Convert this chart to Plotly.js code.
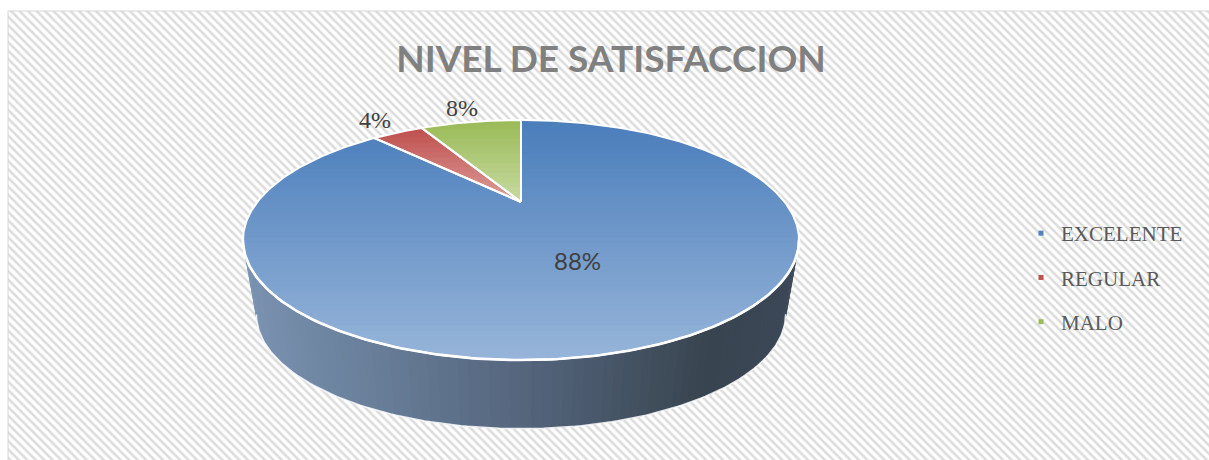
<!DOCTYPE html>
<html><head><meta charset="utf-8">
<script src="https://cdn.plot.ly/plotly-3.0.1.min.js"></script>
<style>html,body{margin:0;padding:0;background:#fff;overflow:hidden}</style>
</head><body><div id="chart" style="width:1209px;height:460px"></div>
<script>
// ---- data ----
const categories = ['EXCELENTE', 'REGULAR', 'MALO'];
const values = [88, 4, 8];
const chartTitle = 'NIVEL DE SATISFACCION';

// ---- styles ----
const W = 1209, H = 460;
const legendColors = ['#4f81bd', '#c0504d', '#9bbb59'];
const topGrad = [['#4a7dbb', '#97b5d9'], ['#be4f4c', '#dd9d9b'], ['#99ba56', '#c7daa1']];
const sideStops = [[0, '#7a93b1'], [0.5, '#55667e'], [0.85, '#38444f'], [1, '#3c4858']];
const CX = 521, K = 0.3167;
const TOPG = {A: 263.7, B: 108, cy: 202};
const BOTG = {A: 251, B: 103, cy: 278};

function hex(c){return [parseInt(c.substr(1,2),16),parseInt(c.substr(3,2),16),parseInt(c.substr(5,2),16)];}
function mix(c1,c2,t){const a=hex(c1),b=hex(c2);return 'rgb('+a.map((v,i)=>Math.round(v+(b[i]-v)*t)).join(',')+')';}
function stopsColor(stops,t){
  for(let i=1;i<stops.length;i++){ if(t<=stops[i][0]){const s=stops[i-1],e=stops[i];return mix(s[1],e[1],(t-s[0])/(e[0]-s[0]));}}
  return stops[stops.length-1][1];
}
function proj(r, phi, g){
  const u=r*Math.sin(phi), v=r*Math.cos(phi), d=1+K*v;
  return [CX + g.A*u/d, g.cy - g.B*v/d];
}
function clipY(poly, y0, keepAbove){
  const out=[]; const ins=p=>keepAbove?p[1]>=y0:p[1]<=y0;
  for(let i=0;i<poly.length;i++){
    const a=poly[i], b=poly[(i+1)%poly.length];
    const ia=ins(a), ib=ins(b);
    if(ia) out.push(a);
    if(ia!==ib){const t=(y0-a[1])/(b[1]-a[1]); out.push([a[0]+t*(b[0]-a[0]), y0]);}
  }
  return out;
}
function polyTrace(pts, color){
  return {type:'scatter', mode:'lines', x:pts.map(p=>p[0]).concat([pts[0][0]]), y:pts.map(p=>p[1]).concat([pts[0][1]]),
    fill:'toself', fillcolor:color, line:{width:0, color:color}, hoverinfo:'skip', showlegend:false};
}
function lineTrace(pts, color, w){
  return {type:'scatter', mode:'lines', x:pts.map(p=>p[0]), y:pts.map(p=>p[1]),
    line:{width:w, color:color}, hoverinfo:'skip', showlegend:false};
}

const traces = [];
// background hatch
traces.push({type:'bar', x:[(8+1230)/2], y:[480], base:[11], width:[1222],
  marker:{color:'#ffffff', line:{color:'#d6d6d6', width:1},
    pattern:{shape:'\\', fgcolor:'#dcdcdc', bgcolor:'#ffffff', size:6, solidity:0.42}},
  hoverinfo:'skip', showlegend:false});

const total = values.reduce((a,b)=>a+b,0);
const D2R = Math.PI/180;

// side wall (front), gradient along x
const phiR = Math.acos(-K), phiL = 2*Math.PI - phiR;
const N = 90;
const xL = proj(1,phiL,TOPG)[0], xR = proj(1,phiR,TOPG)[0];
for(let i=0;i<N;i++){
  const a = phiL - (phiL-phiR)*i/N, b = phiL - (phiL-phiR)*Math.min(1,(i+1.6)/N);
  const pts = [proj(1,a,TOPG), proj(1,b,TOPG), proj(1,b,BOTG), proj(1,a,BOTG)];
  const xm = (proj(1,a,TOPG)[0]+proj(1,b,TOPG)[0])/2;
  traces.push(polyTrace(pts, stopsColor(sideStops, (xm-xL)/(xR-xL))));
}
// bottom front white edge
{
  const pts=[]; for(let p=phiR;p<=phiL+1e-9;p+=D2R) pts.push(proj(1,p,BOTG));
  traces.push(lineTrace(pts,'rgba(255,255,255,0.85)',1.5));
}

// top face slices
const slicePolys = [];
let cum = 0;
values.forEach((v,i)=>{
  const s = cum/total*2*Math.PI, e = (cum+v)/total*2*Math.PI; cum += v;
  const poly = [proj(0,0,TOPG)];
  const n = Math.max(4, Math.ceil((e-s)/D2R));
  for(let j=0;j<=n;j++) poly.push(proj(1, s+(e-s)*j/n, TOPG));
  slicePolys.push({poly, s, e});
  const ys = poly.map(p=>p[1]); const ymin=Math.min(...ys), ymax=Math.max(...ys);
  const bands = Math.max(8, Math.ceil((ymax-ymin)/5));
  const h = (ymax-ymin)/bands;
  for(let b=0;b<bands;b++){
    const y0 = ymin+b*h-0.2, y1 = ymin+(b+1)*h+0.9;
    let c = clipY(poly, y0, true); c = clipY(c, y1, false);
    if(c.length>=3) traces.push(polyTrace(c, mix(topGrad[i][0], topGrad[i][1], (b+0.5)/bands)));
  }
});
// slice outlines
slicePolys.forEach(sp=>{ traces.push(lineTrace(sp.poly.concat([sp.poly[0]]), '#ffffff', 2)); });
// front edge of the top face, thicker white
{
  const pts=[]; for(let p=phiR;p<=phiL+1e-9;p+=D2R) pts.push(proj(1,p,TOPG));
  traces.push(lineTrace(pts,'#ffffff',2.6));
}

// legend entries
categories.forEach((c,i)=>{
  traces.push({type:'scatter', mode:'markers', x:[null], y:[null], name:c, legendgroup:'g'+i,
    marker:{symbol:'square', size:5, color:legendColors[i]}, hoverinfo:'skip', showlegend:true});
});

// labels
const annotations = [];
cum = 0;
values.forEach((v,i)=>{
  const mid = (cum + v/2)/total*2*Math.PI; cum += v;
  const inside = v/total > 0.5;
  const p = proj(inside?0.5:1.24, mid, TOPG);
  annotations.push({x:p[0], y:p[1], xref:'x', yref:'y', showarrow:false, xanchor:'center', yanchor:'middle',
    text: Math.round(v/total*100)+'%',
    font: inside ? {family:'Lato, Liberation Sans, sans-serif', size:24, color:'#404040'}
                 : {family:'Liberation Serif, Times New Roman, serif', size:24, color:'#404040'}});
});

const layout = {
  width:W, height:H, margin:{l:0,r:0,t:0,b:0},
  paper_bgcolor:'#ffffff', plot_bgcolor:'#ffffff',
  xaxis:{range:[0,W], visible:false, fixedrange:true},
  yaxis:{range:[H,0], visible:false, fixedrange:true},
  hovermode:false, bargap:0,
  title:{text:chartTitle, x:611/W, xanchor:'center', y:1-59/H, yanchor:'middle', yref:'container', xref:'container',
    font:{family:'Lato, Liberation Sans, Arial, sans-serif', size:37, color:'#808080', weight:'bold'}},
  showlegend:true,
  legend:{x:1021/W, xanchor:'left', y:1-213/H, yanchor:'top', bgcolor:'rgba(0,0,0,0)', traceorder:'grouped',
    tracegroupgap:14, font:{family:'Liberation Serif, Times New Roman, serif', size:21, color:'#595959'}},
  annotations
};
Plotly.newPlot('chart', traces, layout, {staticPlot:true, displayModeBar:false});
</script></body></html>
